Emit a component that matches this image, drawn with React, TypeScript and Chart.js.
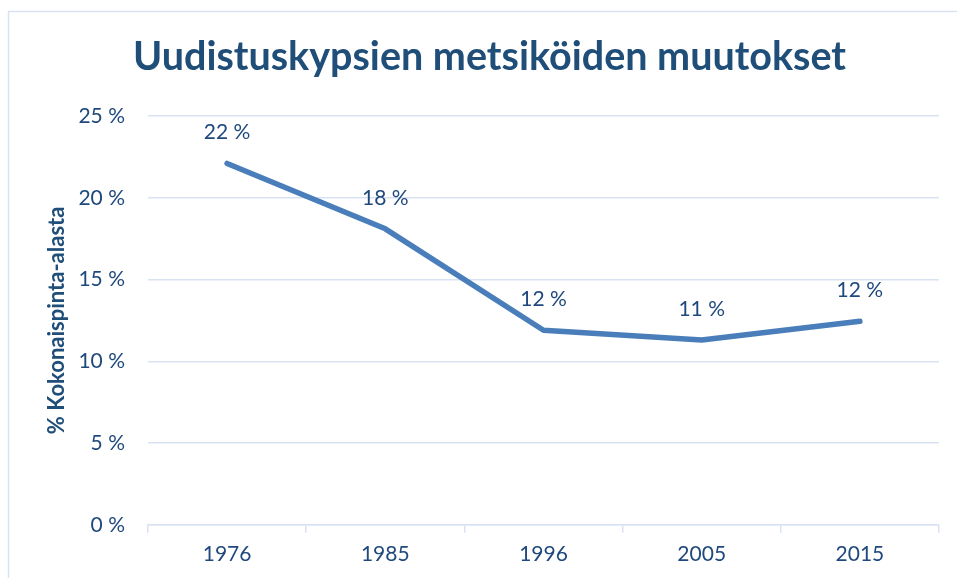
import React, { useEffect, useRef } from "react";
import { Chart, registerables } from "chart.js";

Chart.register(...registerables);

const titleText = "Uudistuskypsien metsiköiden muutokset";
const yAxisTitle = "% Kokonaispinta-alasta";
const years = ["1976", "1985", "1996", "2005", "2015"];
const shares = [22.1, 18.1, 11.9, 11.3, 12.45];
const yTicks = [0, 5, 10, 15, 20, 25];

const TEXT = "#1F497D";
const TITLE = "#1F4E79";
const LINE = "#4A7EBB";
const GRID = "#D9E2F3";
const FONT = "Lato, 'Open Sans', sans-serif";

const framePlugin = {
  id: "frame",
  beforeDraw(chart: any) {
    const ctx = chart.ctx;
    ctx.save();
    ctx.fillStyle = "#ffffff";
    ctx.fillRect(0, 0, chart.width, chart.height);
    ctx.strokeStyle = GRID;
    ctx.lineWidth = 1.5;
    ctx.strokeRect(8.5, 11.5, chart.width + 50, chart.height + 50);
    ctx.restore();
  },
};

const labelPlugin = {
  id: "pointLabels",
  afterDatasetsDraw(chart: any) {
    const ctx = chart.ctx;
    const meta = chart.getDatasetMeta(0);
    const data = chart.data.datasets[0].data as number[];
    ctx.save();
    ctx.font = `21px ${FONT}`;
    ctx.fillStyle = TEXT;
    ctx.textAlign = "center";
    ctx.textBaseline = "middle";
    meta.data.forEach((pt: any, i: number) => {
      ctx.fillText(`${Math.round(data[i])} %`, pt.x, pt.y - 31);
    });
    ctx.restore();
  },
};

export default function App() {
  const ref = useRef<HTMLCanvasElement>(null);
  useEffect(() => {
    if (!ref.current) return;
    const chart = new Chart(ref.current, {
      type: "line",
      data: {
        labels: years,
        datasets: [
          {
            data: shares,
            borderColor: LINE,
            borderWidth: 5.5,
            borderCapStyle: "round",
            borderJoinStyle: "round",
            pointRadius: 0,
            tension: 0,
            fill: false,
          },
        ],
      },
      options: {
        responsive: false,
        animation: false,
        layout: { padding: { left: 40, right: 18, top: 0, bottom: 2 } },
        plugins: {
          legend: { display: false },
          tooltip: { enabled: false },
          title: {
            display: true,
            text: titleText,
            color: TITLE,
            font: { family: FONT, size: 39.5, weight: "bold" },
            padding: { top: 34, bottom: 34.6 },
          },
        },
        scales: {
          x: {
            offset: true,
            grid: {
              offset: true,
              drawOnChartArea: false,
              drawTicks: true,
              tickLength: 8,
              color: GRID,
              lineWidth: 1.5,
            },
            border: { display: true, color: GRID, width: 1.5 },
            ticks: { color: TEXT, font: { family: FONT, size: 21 }, padding: 9, maxRotation: 0 },
          },
          y: {
            min: 0,
            max: 25,
            afterFit(scale: any) {
              scale.width = 108;
            },
            afterBuildTicks(scale: any) {
              scale.ticks = yTicks.map((v) => ({ value: v }));
            },
            grid: { color: GRID, lineWidth: 1.5, drawTicks: false },
            border: { display: false },
            ticks: {
              color: TEXT,
              font: { family: FONT, size: 21 },
              padding: 23,
              callback: (v: any) => `${v} %`,
            },
            title: {
              display: true,
              text: yAxisTitle,
              color: TITLE,
              font: { family: FONT, size: 22, weight: "bold" },
              padding: { top: 4, bottom: 0 },
            },
          },
        },
      },
      plugins: [framePlugin, labelPlugin],
    });
    return () => chart.destroy();
  }, []);
  return (
    <div style={{ position: "fixed", left: 0, top: 0, width: 957, height: 578 }}>
      <canvas ref={ref} width={957} height={578} style={{ display: "block" }} />
    </div>
  );
}
